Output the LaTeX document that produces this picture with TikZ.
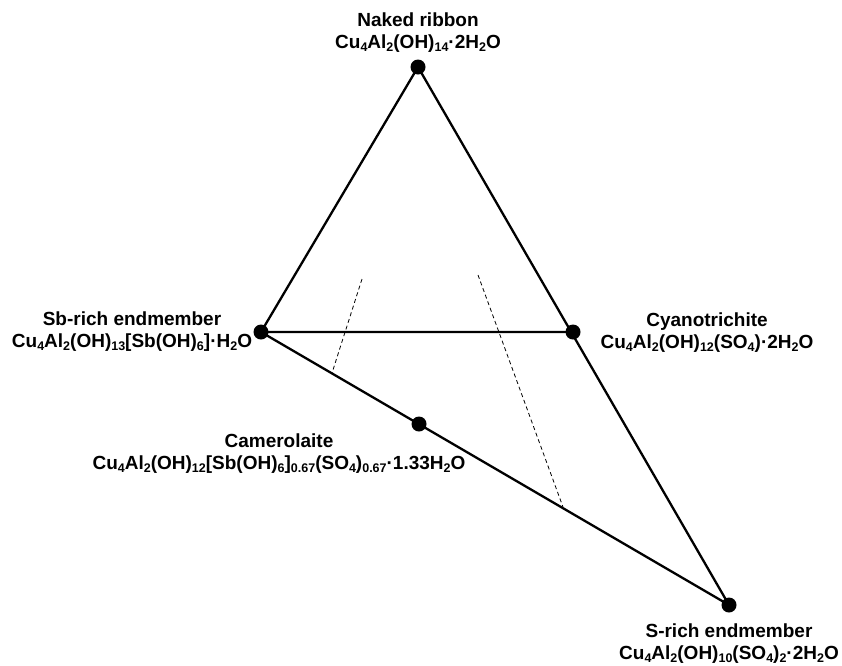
\documentclass[tikz,border=0pt]{standalone}
\usepackage{fontspec}
\setmainfont{Liberation Sans}
\newcommand{\sbs}[1]{\raisebox{-0.28ex}{\fontsize{12.5}{13}\selectfont\bfseries #1}}
\begin{document}
\begin{tikzpicture}[x=1pt,y=-1pt,
  edge/.style={line width=2.3pt},
  guide/.style={line width=0.8pt,dash pattern=on 4pt off 3pt},
  dot/.style={circle,fill=black,inner sep=0pt,minimum size=15pt},
  lbl/.style={font=\bfseries\fontsize{19}{22}\selectfont,align=center,inner sep=0pt}]
\useasboundingbox (0,0) rectangle (842,665);
\node[dot] (N) at (418,67) {};
\node[dot] (Sb) at (261,332) {};
\node[dot] (Cy) at (573,332) {};
\node[dot] (Ca) at (419,424) {};
\node[dot] (S) at (729,605) {};
\draw[edge] (N.center) -- (Sb.center) -- (Cy.center);
\draw[edge] (N.center) -- (S.center) -- (Sb.center);
\coordinate (g1t) at (362,279);
\coordinate (g1b) at (332,373);
\coordinate (g2t) at (478,275);
\coordinate (g2b) at (563,507);
\draw[guide] (g1t) -- (g1b);
\draw[guide] (g2t) -- (g2b);
\node[lbl] (Nl) at (418,33) {Naked ribbon\\Cu\sbs{4}Al\sbs{2}(OH)\sbs{14}·2H\sbs{2}O};
\node[lbl] (Sbl) at (132,332) {Sb-rich endmember\\Cu\sbs{4}Al\sbs{2}(OH)\sbs{13}[Sb(OH)\sbs{6}]·H\sbs{2}O};
\node[lbl] (Cyl) at (707,333) {Cyanotrichite\\Cu\sbs{4}Al\sbs{2}(OH)\sbs{12}(SO\sbs{4})·2H\sbs{2}O};
\node[lbl] (Cal) at (279,454) {Camerolaite\\Cu\sbs{4}Al\sbs{2}(OH)\sbs{12}[Sb(OH)\sbs{6}]\sbs{0.67}(SO\sbs{4})\sbs{0.67}·1.33H\sbs{2}O};
\node[lbl] (Sl) at (729,644) {S-rich endmember\\Cu\sbs{4}Al\sbs{2}(OH)\sbs{10}(SO\sbs{4})\sbs{2}·2H\sbs{2}O};
\end{tikzpicture}
\end{document}
